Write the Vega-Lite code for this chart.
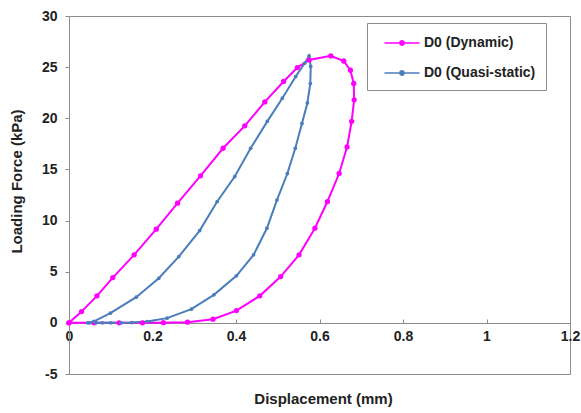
{
  "$schema": "https://vega.github.io/schema/vega-lite/v6.json",
  "autosize": {"type": "none"},
  "padding": {"left": 69, "top": 16, "right": 11, "bottom": 39},
  "width": 501,
  "height": 358,
  "background": "white",
  "config": {
    "view": {"stroke": "#8c8c8c", "strokeWidth": 1},
    "font": "Liberation Sans",
    "axis": {"grid": false, "labelFont": "Liberation Sans", "labelFontWeight": "bold", "labelFontSize": 14, "labelColor": "#222", "titleFont": "Liberation Sans", "titleFontWeight": "bold", "titleFontSize": 15, "titleColor": "#222", "domainColor": "#8c8c8c", "tickColor": "#8c8c8c"}
  },
  "datasets": {
    "pts": [
      {"s": "D0 (Dynamic)", "i": 0, "x": 0.0, "y": 0.0},
      {"s": "D0 (Dynamic)", "i": 1, "x": 0.03, "y": 1.1},
      {"s": "D0 (Dynamic)", "i": 2, "x": 0.067, "y": 2.64},
      {"s": "D0 (Dynamic)", "i": 3, "x": 0.105, "y": 4.43},
      {"s": "D0 (Dynamic)", "i": 4, "x": 0.156, "y": 6.65},
      {"s": "D0 (Dynamic)", "i": 5, "x": 0.209, "y": 9.16},
      {"s": "D0 (Dynamic)", "i": 6, "x": 0.26, "y": 11.7},
      {"s": "D0 (Dynamic)", "i": 7, "x": 0.315, "y": 14.37},
      {"s": "D0 (Dynamic)", "i": 8, "x": 0.369, "y": 17.07},
      {"s": "D0 (Dynamic)", "i": 9, "x": 0.421, "y": 19.26},
      {"s": "D0 (Dynamic)", "i": 10, "x": 0.469, "y": 21.6},
      {"s": "D0 (Dynamic)", "i": 11, "x": 0.514, "y": 23.6},
      {"s": "D0 (Dynamic)", "i": 12, "x": 0.547, "y": 24.96},
      {"s": "D0 (Dynamic)", "i": 13, "x": 0.575, "y": 25.7},
      {"s": "D0 (Dynamic)", "i": 14, "x": 0.627, "y": 26.1},
      {"s": "D0 (Dynamic)", "i": 15, "x": 0.658, "y": 25.6},
      {"s": "D0 (Dynamic)", "i": 16, "x": 0.674, "y": 24.7},
      {"s": "D0 (Dynamic)", "i": 17, "x": 0.682, "y": 23.4},
      {"s": "D0 (Dynamic)", "i": 18, "x": 0.683, "y": 21.8},
      {"s": "D0 (Dynamic)", "i": 19, "x": 0.677, "y": 19.7},
      {"s": "D0 (Dynamic)", "i": 20, "x": 0.666, "y": 17.2},
      {"s": "D0 (Dynamic)", "i": 21, "x": 0.647, "y": 14.6},
      {"s": "D0 (Dynamic)", "i": 22, "x": 0.619, "y": 11.86},
      {"s": "D0 (Dynamic)", "i": 23, "x": 0.589, "y": 9.25},
      {"s": "D0 (Dynamic)", "i": 24, "x": 0.551, "y": 6.65},
      {"s": "D0 (Dynamic)", "i": 25, "x": 0.507, "y": 4.53},
      {"s": "D0 (Dynamic)", "i": 26, "x": 0.457, "y": 2.64},
      {"s": "D0 (Dynamic)", "i": 27, "x": 0.401, "y": 1.2},
      {"s": "D0 (Dynamic)", "i": 28, "x": 0.345, "y": 0.36},
      {"s": "D0 (Dynamic)", "i": 29, "x": 0.284, "y": 0.07},
      {"s": "D0 (Dynamic)", "i": 30, "x": 0.226, "y": 0.02},
      {"s": "D0 (Dynamic)", "i": 31, "x": 0.176, "y": 0.0},
      {"s": "D0 (Dynamic)", "i": 32, "x": 0.12, "y": 0.0},
      {"s": "D0 (Dynamic)", "i": 33, "x": 0.06, "y": 0.0},
      {"s": "D0 (Dynamic)", "i": 34, "x": 0.0, "y": 0.0},
      {"s": "D0 (Quasi-static)", "i": 0, "x": 0.045, "y": 0.0},
      {"s": "D0 (Quasi-static)", "i": 1, "x": 0.06, "y": 0.15},
      {"s": "D0 (Quasi-static)", "i": 2, "x": 0.099, "y": 0.95},
      {"s": "D0 (Quasi-static)", "i": 3, "x": 0.161, "y": 2.51},
      {"s": "D0 (Quasi-static)", "i": 4, "x": 0.215, "y": 4.36},
      {"s": "D0 (Quasi-static)", "i": 5, "x": 0.263, "y": 6.48},
      {"s": "D0 (Quasi-static)", "i": 6, "x": 0.313, "y": 9.02},
      {"s": "D0 (Quasi-static)", "i": 7, "x": 0.355, "y": 11.86},
      {"s": "D0 (Quasi-static)", "i": 8, "x": 0.397, "y": 14.3},
      {"s": "D0 (Quasi-static)", "i": 9, "x": 0.435, "y": 17.07},
      {"s": "D0 (Quasi-static)", "i": 10, "x": 0.475, "y": 19.7},
      {"s": "D0 (Quasi-static)", "i": 11, "x": 0.511, "y": 21.96},
      {"s": "D0 (Quasi-static)", "i": 12, "x": 0.543, "y": 24.08},
      {"s": "D0 (Quasi-static)", "i": 13, "x": 0.565, "y": 25.4},
      {"s": "D0 (Quasi-static)", "i": 14, "x": 0.575, "y": 26.1},
      {"s": "D0 (Quasi-static)", "i": 15, "x": 0.579, "y": 25.07},
      {"s": "D0 (Quasi-static)", "i": 16, "x": 0.578, "y": 23.4},
      {"s": "D0 (Quasi-static)", "i": 17, "x": 0.571, "y": 21.5},
      {"s": "D0 (Quasi-static)", "i": 18, "x": 0.558, "y": 19.5},
      {"s": "D0 (Quasi-static)", "i": 19, "x": 0.542, "y": 17.07},
      {"s": "D0 (Quasi-static)", "i": 20, "x": 0.523, "y": 14.6},
      {"s": "D0 (Quasi-static)", "i": 21, "x": 0.498, "y": 12.0},
      {"s": "D0 (Quasi-static)", "i": 22, "x": 0.474, "y": 9.25},
      {"s": "D0 (Quasi-static)", "i": 23, "x": 0.442, "y": 6.65},
      {"s": "D0 (Quasi-static)", "i": 24, "x": 0.401, "y": 4.6},
      {"s": "D0 (Quasi-static)", "i": 25, "x": 0.347, "y": 2.74},
      {"s": "D0 (Quasi-static)", "i": 26, "x": 0.293, "y": 1.34},
      {"s": "D0 (Quasi-static)", "i": 27, "x": 0.235, "y": 0.46},
      {"s": "D0 (Quasi-static)", "i": 28, "x": 0.187, "y": 0.13},
      {"s": "D0 (Quasi-static)", "i": 29, "x": 0.15, "y": 0.03},
      {"s": "D0 (Quasi-static)", "i": 30, "x": 0.125, "y": 0.0},
      {"s": "D0 (Quasi-static)", "i": 31, "x": 0.1, "y": 0.0},
      {"s": "D0 (Quasi-static)", "i": 32, "x": 0.08, "y": 0.0},
      {"s": "D0 (Quasi-static)", "i": 33, "x": 0.065, "y": 0.0},
      {"s": "D0 (Quasi-static)", "i": 34, "x": 0.05, "y": 0.0}
    ]
  },
  "data": {"name": "pts"},
  "encoding": {
    "x": {"field": "x", "type": "quantitative", "scale": {"domain": [0, 1.2], "nice": false, "zero": false},
      "axis": {"title": "Displacement (mm)", "values": [0, 0.2, 0.4, 0.6, 0.8, 1, 1.2], "format": "~g", "offset": -51, "tickSize": -4, "labelPadding": 10, "titlePadding": 48, "titleX": 254, "labelFlush": false}},
    "y": {"field": "y", "type": "quantitative", "scale": {"domain": [-5, 30], "nice": false, "zero": false},
      "axis": {"title": "Loading Force (kPa)", "values": [-5, 0, 5, 10, 15, 20, 25, 30], "labelExpr": "replace(datum.label, '\u2212', '-')", "tickSize": 4, "labelPadding": 8, "titlePadding": 17, "titleY": 165}},
    "color": {"field": "s", "type": "nominal", "scale": {"domain": ["D0 (Dynamic)", "D0 (Quasi-static)"], "range": ["#FF00FF", "#4A7EBB"]},
      "legend": {"title": null, "orient": "none", "legendX": 298, "legendY": 7, "padding": 10, "strokeColor": "#8c8c8c", "fillColor": "white", "rowPadding": 13,
        "labelFont": "Liberation Sans", "labelFontWeight": "bold", "labelFontSize": 14, "labelColor": "#222", "labelOffset": 12,
        "symbolType": "M-1.75,-0.08H-0.3V0.08H-1.75Z M0.3,-0.08H1.75V0.08H0.3Z M-0.3,0A0.3,0.3 0 1,0 0.3,0A0.3,0.3 0 1,0 -0.3,0Z",
        "symbolSize": 400, "symbolOffset": 15, "symbolOpacity": 1, "symbolStrokeWidth": 0}}
  },
  "layer": [
    {"mark": {"type": "line", "strokeWidth": 2, "interpolate": "linear"},
      "encoding": {"order": {"field": "i", "type": "quantitative"}, "detail": {"field": "s"}}},
    {"mark": {"type": "point", "filled": true, "opacity": 1},
      "encoding": {
        "size": {"condition": {"test": "datum.s === 'D0 (Dynamic)'", "value": 28}, "value": 14}}}
  ]
}
